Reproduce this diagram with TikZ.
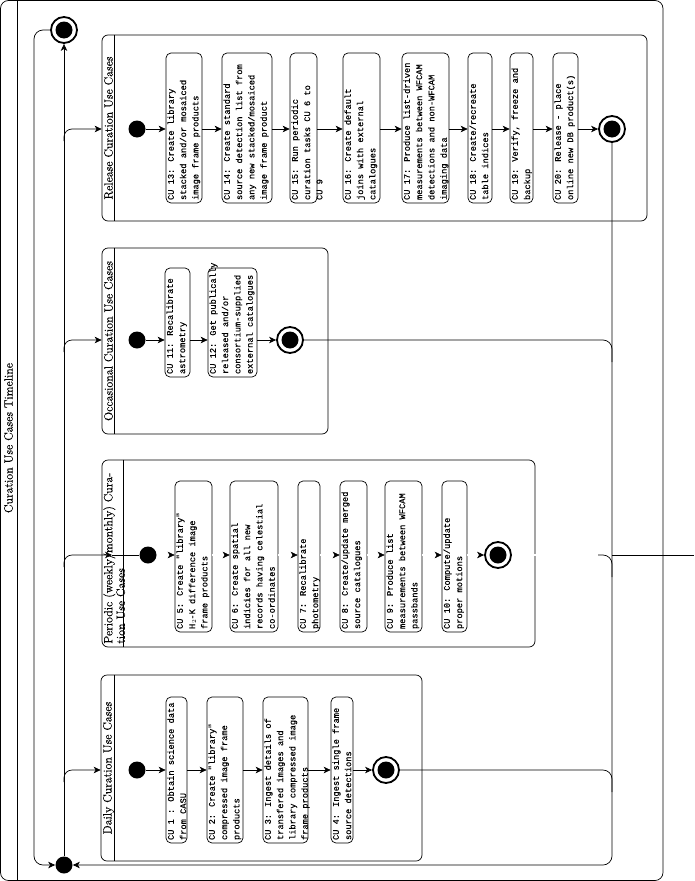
\documentclass[tikz,border=0pt]{standalone}
\usepackage{fontspec}
\newfontfamily\monofam[FakeBold=0.4]{Liberation Mono}
\newfontfamily\titlefam[FakeBold=0.35]{Latin Modern Roman}
\usetikzlibrary{arrows.meta}
\newcommand{\cuf}{\monofam\fontsize{8.7}{12.3}\selectfont}
\newcommand{\ttlf}{\titlefam\fontsize{12}{9.3}\selectfont}
% name, x1, x2, y1, y2, text
\newcommand{\mkcu}[6]{%
  \node[cubox, minimum width={#3-#2}, minimum height={#5-#4}] (#1) at ({(#2+#3)/2},{(#4+#5)/2}) {};
  \node[cutext] at ([xshift=1.5pt,yshift=3pt]#1.south west) {#6};}
\begin{document}
\begin{tikzpicture}[x=1pt,y=-1pt,
  line width=0.7pt,
  arr/.style={-{Stealth[length=7pt,width=6.5pt,inset=2pt]}},
  dbl/.style={double, double distance=1.2pt, line width=0.5pt},
  part/.style={draw, rounded corners=6pt, inner sep=0pt},
  cubox/.style={draw, rounded corners=5pt, inner sep=0pt},
  cutext/.style={rotate=90, anchor=north west, align=left, inner sep=0pt, font=\cuf},
  sdot/.style={circle, fill=black, inner sep=0pt, minimum size=17pt},
  fdot/.style={circle, draw, line width=1.8pt, inner sep=0pt, minimum size=26pt,
    path picture={\fill (path picture bounding box.center) circle[radius=8.5pt];}},
  ptitle/.style={rotate=90, font=\ttlf, inner sep=0pt}
]
\useasboundingbox (0,0) rectangle (694,881);

% outer frame
\draw[rounded corners=8pt] (0.5,0.5) rectangle (663,880.5);
\draw (17,0.5) -- (17,880.5);
\node[ptitle] (maintitle) at (8.5,438) {Curation Use Cases Timeline};

% timeline nodes
\node[sdot] (tS) at (64,865) {};
\node[fdot] (tF) at (64,30) {};

% partitions
\node[part, minimum width=545, minimum height=186] (rel) at (374.5,128) {};
\draw ([xshift=13pt]rel.north west) -- ([xshift=13pt]rel.south west);
\node[ptitle] (relT) at (108.5,128) {Release Curation Use Cases};

\node[part, minimum width=226, minimum height=186] (occ) at (215,341) {};
\draw ([xshift=13pt]occ.north west) -- ([xshift=13pt]occ.south west);
\node[ptitle] (occT) at (108.5,341) {Occasional Curation Use Cases};

\node[part, minimum width=433, minimum height=187] (per) at (318.5,553.5) {};
\draw ([xshift=22pt]per.north west) -- ([xshift=22pt]per.south west);
\node[ptitle, anchor=north west, align=left] (perT) at (103,644) {Periodic (weekly/monthly) Cura-\\tion Use Cases};

\node[part, minimum width=321, minimum height=186] (day) at (261.5,768) {};
\draw ([xshift=14pt]day.north west) -- ([xshift=14pt]day.south west);
\node[ptitle] (dayT) at (108.5,768) {Daily Curation Use Cases};

% ---------------- Release
\node[sdot] (relS) at (137,129) {};
\mkcu{cu13}{166}{202}{53}{203}{CU 13: Create library\\stacked and/or mosaiced\\image frame products}
\mkcu{cu14}{222}{272}{53}{203}{CU 14: Create standard\\source detection list from\\any new stacked/mosaiced\\image frame product}
\mkcu{cu15}{290}{317}{53}{203}{CU 15: Run periodic\\curation tasks CU 6 to\\CU 9}
\mkcu{cu16}{343}{380}{53}{203}{CU 16: Create default\\joins with external\\catalogues}
\mkcu{cu17}{402}{449}{53}{203}{CU 17: Produce list-driven\\measurements between WFCAM\\detections and non-WFCAM\\imaging data}
\mkcu{cu18}{468}{492}{53}{203}{CU 18: Create/recreate\\table indices}
\mkcu{cu19}{510}{533}{53}{203}{CU 19: Verify, freeze and\\backup}
\mkcu{cu20}{553}{578}{53}{203}{CU 20: Release - place\\online new DB product(s)}
\node[fdot] (relF) at (612,129) {};
\draw[arr] (relS) -- (cu13.west |- relS);
\draw[arr] (cu13.east |- relS) -- (cu14.west |- relS);
\draw[arr] (cu14.east |- relS) -- (cu15.west |- relS);
\draw[arr] (cu15.east |- relS) -- (cu16.west |- relS);
\draw[arr] (cu16.east |- relS) -- (cu17.west |- relS);
\draw[arr] (cu17.east |- relS) -- (cu18.west |- relS);
\draw[arr] (cu18.east |- relS) -- (cu19.west |- relS);
\draw[arr] (cu19.east |- relS) -- (cu20.west |- relS);
\draw[arr] (cu20.east |- relS) -- (relF);

% ---------------- Occasional
\node[sdot] (occS) at (137,340) {};
\mkcu{cu11}{165}{190}{268}{377}{CU 11: Recalibrate\\astrometry}
\mkcu{cu12}{208}{257}{268}{377}{CU 12: Get publically\\released and/or\\consortium-supplied\\external catalogues}
\node[fdot] (occF) at (290,340) {};
\draw[arr] (occS) -- (cu11.west |- occS);
\draw[arr] (cu11.east |- occS) -- (cu12.west |- occS);
\draw[arr] (cu12.east |- occS) -- (occF);

% ---------------- Periodic
\node[sdot] (perS) at (148,555) {};
\mkcu{cu5}{175}{212}{481}{632}{CU 5: Create "library"\\H$_2$-K difference image\\frame products}
\mkcu{cu6}{230}{278}{481}{632}{CU 6: Create spatial\\indicies for all new\\records having celestial\\co-ordinates}
\mkcu{cu7}{298}{320}{481}{632}{CU 7: Recalibrate\\photometry}
\mkcu{cu8}{340}{367}{481}{632}{CU 8: Create/update merged\\source catalogues}
\mkcu{cu9}{385}{422}{481}{632}{CU 9: Produce list\\measurements between WFCAM\\passbands}
\mkcu{cu10}{442}{467}{481}{632}{CU 10: Compute/update\\proper motions}
\node[fdot] (perF) at (498,555) {};
\draw[arr,dbl] (perS) -- (cu5.west |- perS);
\draw[arr,dbl] (cu5.east |- perS) -- (cu6.west |- perS);
\draw[arr,dbl] (cu6.east |- perS) -- (cu7.west |- perS);
\draw[arr,dbl] (cu7.east |- perS) -- (cu8.west |- perS);
\draw[arr,dbl] (cu8.east |- perS) -- (cu9.west |- perS);
\draw[arr,dbl] (cu9.east |- perS) -- (cu10.west |- perS);
\draw[arr,dbl] (cu10.east |- perS) -- (perF);

% ---------------- Daily
\node[sdot] (dayS) at (137,770) {};
\mkcu{cu1}{166}{187}{697}{843}{CU 1 : Obtain science data\\from CASU}
\mkcu{cu2}{207}{243}{697}{843}{CU 2: Create "library"\\compressed image frame\\products}
\mkcu{cu3}{263}{308}{697}{843}{CU 3: Ingest details of\\transfered images and\\library compressed image\\frame products}
\mkcu{cu4}{331}{353}{697}{843}{CU 4: Ingest single frame\\source detections}
\node[fdot] (dayF) at (386,770) {};
\draw[arr] (dayS) -- (cu1.west |- dayS);
\draw[arr] (cu1.east |- dayS) -- (cu2.west |- dayS);
\draw[arr] (cu2.east |- dayS) -- (cu3.west |- dayS);
\draw[arr] (cu3.east |- dayS) -- (cu4.west |- dayS);
\draw[arr] (cu4.east |- dayS) -- (dayF);

% ---------------- timeline connectors
\draw[arr] (tS) -- (tF);
\coordinate (b1) at (64,141);
\coordinate (b2) at (64,352);
\coordinate (b3) at (64,567);
\coordinate (b4) at (64,782);
\draw[arr, rounded corners=8pt] (b1) |- (rel.west |- relS);
\draw[arr, rounded corners=8pt] (b2) |- (occ.west |- occS);
\coordinate (perIn) at (112,555);
\draw[arr, rounded corners=8pt] (b3) |- (perIn);
\draw (perIn) -- (perS);
\draw[arr, rounded corners=8pt] (b4) |- (day.west |- dayS);

% loop from final back to start
\draw[arr, rounded corners=9pt] (tF) -| (34,865) -- (tS);

% return lines
\draw[arr, rounded corners=9pt] (relF) |- (tS);
\draw[rounded corners=9pt] (occF) -| (612,362);
\coordinate (perR) at (600,555);
\draw[dbl] (perF) -- (perR);
\draw[rounded corners=9pt] (598,555) -| (612,577);
\draw (612,555) -- (694,555);
\draw[rounded corners=9pt] (dayF) -| (612,792);
\end{tikzpicture}
\end{document}
